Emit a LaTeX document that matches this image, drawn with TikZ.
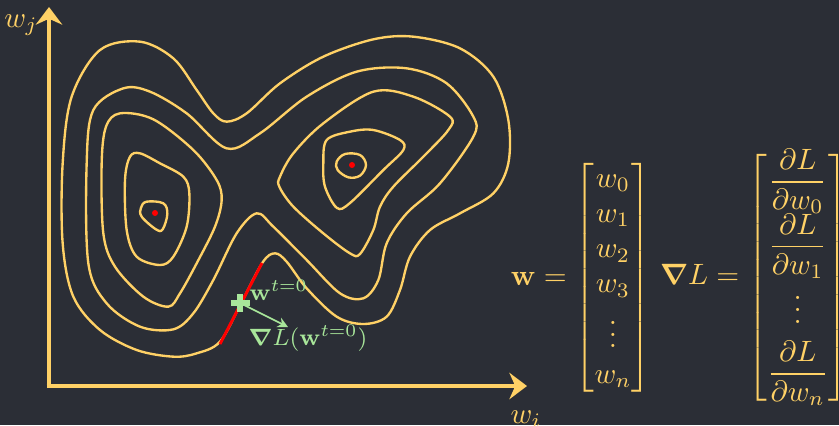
\documentclass[tikz,border=0pt]{standalone}
\usepackage{amsmath}
\usetikzlibrary{arrows.meta}
\definecolor{bgc}{HTML}{2B2E36}
\definecolor{gold}{HTML}{FFD166}
\definecolor{lgreen}{HTML}{A8E69A}
\begin{document}
\begin{tikzpicture}[x=0.34pt,y=-0.34pt,
 contour/.style={draw=gold,line width=0.8pt},
 axisline/.style={draw=gold,line width=1.45pt,-{Stealth[length=6pt,width=9pt,inset=2pt]}},
 minpt/.style={fill=red},
 lbl/.style={text=gold,inner sep=0pt},
 glbl/.style={text=lgreen,inner sep=0pt,font=\footnotesize}]
\fill[bgc] (0,0) rectangle (839,425);
\useasboundingbox (0,0) rectangle (839,425);
% axes
\coordinate (O) at (49,388);
\coordinate (ytip) at (49,7);
\coordinate (xbeg) at (46.7,386);
\coordinate (xtip) at (527,386);
\draw[axisline] (O) -- (ytip);
\draw[axisline] (xbeg) -- (xtip);
\node[lbl] (wj) at (21,25) {$w_j$};
\node[lbl] (wi) at (526,419) {$w_i$};
% contours
\begin{scope}[shift={(40,30)},scale=0.33333]
\draw[contour] plot[smooth cycle,tension=0.55] coordinates {
 (300,35) (400,85) (470,180) (520,250) (560,275) (620,250) (720,160) (850,80)
 (1000,28) (1120,20) (1260,55) (1360,140) (1405,270) (1405,400) (1360,490)
 (1260,550) (1170,600) (1110,680) (1080,780) (1040,860) (970,882) (890,860)
 (800,775) (740,695) (705,670) (668,697) (603,820) (540,935) (470,970) (400,980)
 (290,960) (180,900) (100,800) (68,640) (68,400) (95,200) (180,60)};
\draw[contour] plot[smooth cycle,tension=0.55] coordinates {
 (250,175) (330,185) (440,250) (560,355) (660,310) (800,200) (950,125) (1100,115)
 (1220,160) (1300,260) (1300,320) (1200,460) (1100,550) (1040,640) (1015,750)
 (970,805) (900,790) (800,690) (700,590) (650,550) (590,610) (520,750) (460,850)
 (400,898) (300,890) (200,820) (145,700) (140,400) (160,240)};
\draw[contour] plot[smooth cycle,tension=0.55] coordinates {
 (240,250) (340,268) (460,360) (530,450) (545,510) (525,590) (470,700) (420,790)
 (385,830) (310,800) (225,710) (190,610) (185,400) (198,290)};
\draw[contour] plot[smooth cycle,tension=0.55] coordinates {
 (720,440) (760,370) (850,280) (1000,185) (1120,200) (1230,260) (1225,300)
 (1150,380) (1060,470) (1020,530) (1000,600) (960,672) (930,670) (850,610)
 (760,530) (718,470)};
\draw[contour] plot[smooth cycle,tension=0.55] coordinates {
 (300,370) (360,400) (430,440) (448,490) (440,590) (400,680) (360,705) (290,680)
 (260,600) (255,450) (270,380)};
\draw[contour] plot[smooth cycle,tension=0.55] coordinates {
 (860,330) (930,305) (1000,300) (1080,330) (1090,360) (1030,420) (930,519)
 (891,534) (855,470) (850,400)};
\draw[contour] plot[smooth cycle,tension=0.6] coordinates {
 (320,515) (370,520) (382,552) (368,598) (348,598) (305,560) (303,533)};
\draw[contour] plot[smooth cycle,tension=0.6] coordinates {
 (890,395) (915,372) (960,375) (978,405) (960,437) (925,442) (893,420)};
\end{scope}
% minima
\fill[minpt] (155,213) circle (3);
\fill[minpt] (352,165) circle (3);
% tangent and gradient
\coordinate (r1) at (220,344);
\coordinate (r2) at (262,263);
\draw[red,line width=1pt] (r1) -- (r2);
\coordinate (w0) at (240,303);
\draw[lgreen,line width=1.8pt] ([xshift=-9.5*0.34pt]w0) -- ([xshift=9.5*0.34pt]w0);
\draw[lgreen,line width=1.8pt] ([yshift=9*0.34pt]w0) -- ([yshift=-9*0.34pt]w0);
\coordinate (gtip) at (288,327);
\draw[lgreen,line width=0.6pt,-{Stealth[length=3.5pt,width=3.5pt]}] (w0) -- (gtip);
\node[glbl,anchor=base west] (wlab) at (249,300) {$\mathbf{w}^{t=0}$};
\node[glbl,anchor=base west] (glab) at (248,345) {$\boldsymbol{\nabla} L(\mathbf{w}^{t=0})$};
% vectors
\node[lbl] (wvec) at (581,278) {$\mathbf{w} = \begin{bmatrix} w_0\\ w_1\\ w_2\\ w_3\\ \vdots\\ w_n\end{bmatrix}$};
\node[lbl] (gvec) at (754,277.5) {$\boldsymbol{\nabla} L = \begin{bmatrix} \dfrac{\partial L}{\partial w_0}\\[2.5pt] \dfrac{\partial L}{\partial w_1}\\[2.5pt] \vdots\\[2.5pt] \dfrac{\partial L}{\partial w_n}\end{bmatrix}$};
\end{tikzpicture}
\end{document}
